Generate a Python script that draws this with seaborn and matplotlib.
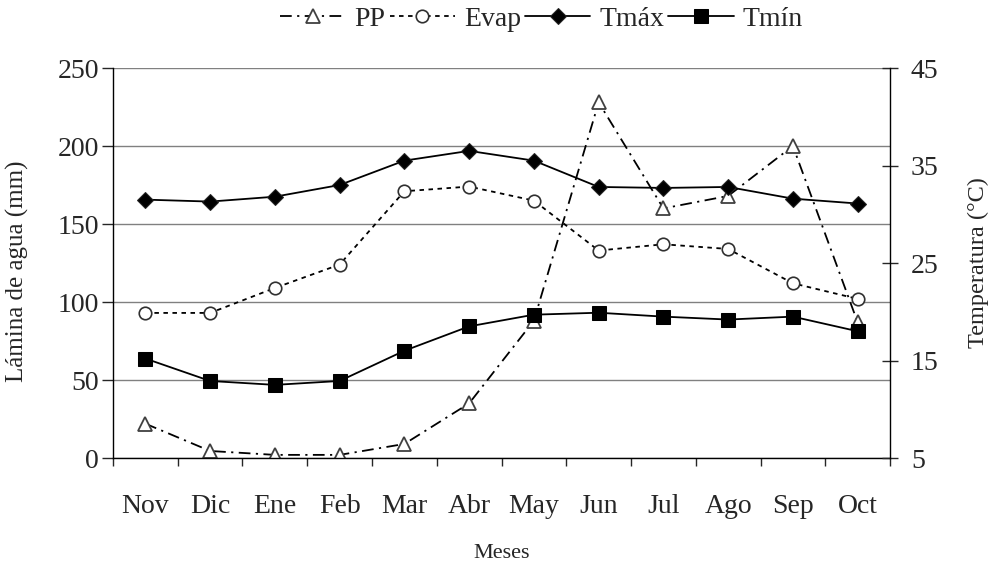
import numpy as np
import pandas as pd
import seaborn as sns
import matplotlib.pyplot as plt

# datos
meses = ['Nov', 'Dic', 'Ene', 'Feb', 'Mar', 'Abr', 'May', 'Jun', 'Jul', 'Ago', 'Sep', 'Oct']
pp = [22, 4.5, 2, 2, 9, 35, 88, 228, 160, 168, 200, 87]
evap = [93, 93, 109, 124, 171, 174, 165, 133, 137, 134, 112, 102]
tmax = [31.5, 31.3, 31.8, 33.0, 35.5, 36.5, 35.5, 32.8, 32.7, 32.8, 31.6, 31.1]
tmin = [15.2, 12.9, 12.5, 12.9, 16.0, 18.5, 19.7, 19.9, 19.5, 19.2, 19.5, 18.0]
yticks_agua = [0, 50, 100, 150, 200, 250]
yticks_temp = [5, 15, 25, 35, 45]

df = pd.DataFrame({'pos': np.arange(len(meses)), 'mes': meses,
                   'PP': pp, 'Evap': evap, 'Tmax': tmax, 'Tmin': tmin})

sns.set_style("white")
plt.rcParams['font.family'] = ['Liberation Serif', 'DejaVu Serif']

fig = plt.figure(figsize=(9.92, 5.63), dpi=100)
ax = fig.add_axes([0.1139, 0.1865, 0.7833, 0.6927])
ax2 = ax.twinx()

lw = 1.3
sns.lineplot(data=df, x='pos', y='PP', ax=ax, color='black', lw=lw,
             linestyle=(0, (6.5, 3, 1.2, 3)), marker='^', markersize=10,
             markerfacecolor='white', markeredgecolor='#404040', markeredgewidth=1.3,
             label='PP', legend=False)
sns.lineplot(data=df, x='pos', y='Evap', ax=ax, color='black', lw=lw,
             linestyle=(0, (2.5, 2.5)), marker='o', markersize=9,
             markerfacecolor='white', markeredgecolor='#303030', markeredgewidth=1.2,
             label='Evap', legend=False)
sns.lineplot(data=df, x='pos', y='Tmax', ax=ax2, color='black', lw=lw,
             marker='D', markersize=8, markerfacecolor='black',
             markeredgecolor='#222222', label='Tmáx', legend=False)
sns.lineplot(data=df, x='pos', y='Tmin', ax=ax2, color='black', lw=lw,
             marker='s', markersize=10, markerfacecolor='black',
             markeredgecolor='black', label='Tmín', legend=False)

# eje izquierdo
ax.set_ylim(0, 250)
ax.set_yticks(yticks_agua)
ax.yaxis.grid(True, color='#808080', lw=1.0)
ax.set_axisbelow(True)
ax.tick_params(axis='y', direction='out', length=8, width=1, pad=2, labelsize=20, left=True)
ax.set_ylabel('Lámina de agua (mm)', fontsize=18)
ax.yaxis.set_label_coords(-0.108, 0.48)

# eje x con ticks entre categorias
ax.set_xlim(-0.5, len(meses) - 0.5)
ax.set_xticks(np.arange(len(meses) + 1) - 0.5)
ax.set_xticklabels([])
ax.set_xticks(np.arange(len(meses)), minor=True)
ax.set_xticklabels(meses, minor=True, fontsize=20)
ax.tick_params(axis='x', which='major', direction='out', length=6, width=1, bottom=True)
ax.tick_params(axis='x', which='minor', length=0, pad=26)
ax.set_xlabel('Meses', fontsize=16, labelpad=18)

# eje derecho
ax2.set_ylim(5, 45)
ax2.set_yticks(yticks_temp)
ax2.tick_params(axis='y', direction='inout', length=12, width=1, pad=9, labelsize=20, right=True)
ax2.set_ylabel('Temperatura (°C)', fontsize=17.5, labelpad=21)
ax2.grid(False)

for a in (ax, ax2):
    a.spines['top'].set_visible(False)
    for s in ('left', 'right', 'bottom'):
        a.spines[s].set_color('black')
        a.spines[s].set_linewidth(1.0)
ax.spines['right'].set_visible(False)
ax2.spines['left'].set_visible(False)
ax2.spines['bottom'].set_visible(False)

h1, l1 = ax.get_legend_handles_labels()
h2, l2 = ax2.get_legend_handles_labels()
fig.legend(h1 + h2, l1 + l2, loc='center', bbox_to_anchor=(0.546, 0.966), ncol=4,
           frameon=False, fontsize=20, handlelength=2.35, handletextpad=0.32,
           columnspacing=0.15, borderaxespad=0)

fig.savefig('out.png', dpi=100)
